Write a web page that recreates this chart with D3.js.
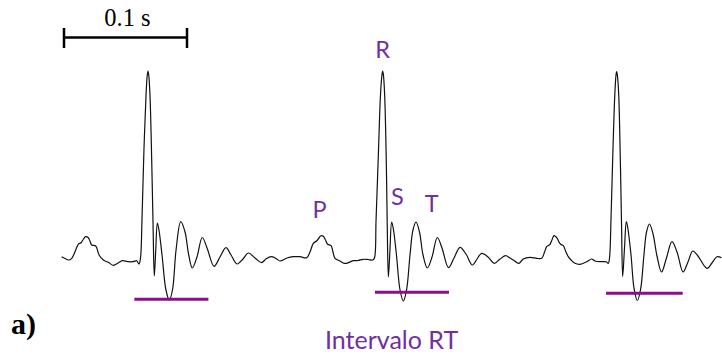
<!DOCTYPE html>
<html>
<head>
<meta charset="utf-8">
<script src="https://cdn.jsdelivr.net/npm/d3@7"></script>
<style>
  html, body { margin: 0; padding: 0; background: #fff; }
  svg { display: block; }
</style>
</head>
<body>
<svg id="chart" width="722" height="356"></svg>
<script>
// ECG trace: time in ms, amplitude in mV
const traceTime = [
  -1.9, 0.8, 3.5, 6.3, 9.5, 11.6, 13.8, 15.9, 17.6, 19.8, 21.1, 22.5, 25.8, 28.5, 32.0, 36.0, 40.1, 44.1, 47.4, 51.8, 56.3, 59.1, 61.0,
  62.2, 63.4, 65.0, 66.7, 67.7, 68.3, 68.9, 69.9, 71.3, 72.4, 73.4,
  74.6, 75.9, 77.2, 79.7, 82.9, 85.6, 88.2, 91.1, 94.9, 98.4, 101.4, 104.3, 108.1, 112.4, 116.3, 122.0, 126.8, 131.7, 135.8, 140.7, 145.5, 149.8, 155.3, 160.6, 164.2, 168.5, 172.4, 175.6, 181.3, 186.4, 191.9, 197.3,
  200.0, 202.7, 205.4, 207.3, 208.9, 210.8, 212.6, 214.4, 217.1, 218.7, 220.3, 224.4, 227.9, 229.8, 235.2, 239.0, 243.3, 247.2, 251.0,
  252.4, 253.7, 255.7, 257.3, 258.5, 259.1, 259.7, 260.7, 262.0, 262.8, 263.7,
  265.0, 266.4, 267.9, 270.3, 273.2, 275.9, 278.5, 281.3, 283.7, 286.2, 289.0, 291.9, 295.4, 299.2, 303.5, 307.3, 312.6, 317.1, 322.0, 326.8, 332.0, 335.8, 339.6, 344.7, 349.8, 354.5, 359.1, 362.6, 365.3, 369.9, 373.4, 378.9, 384.3, 388.4,
  390.7, 392.4, 395.1, 396.7, 398.4, 400.6, 402.0, 403.8, 405.9, 408.1, 410.0, 412.2, 415.4, 419.5, 425.0, 429.0, 431.7, 437.2, 440.7, 442.5,
  443.5, 444.7, 446.3, 447.8, 448.8, 449.3, 449.9, 451.0, 452.3, 453.3, 454.2,
  455.7, 457.2, 458.5, 461.0, 463.4, 466.1, 468.7, 471.5, 473.6, 476.0, 478.9, 482.1, 485.8, 489.8, 494.3, 498.4, 503.3, 507.3, 511.2, 515.4, 522.8, 526.8, 530.9, 534.6
];
const traceValue = [
  0.013, -0.005, -0.02, -0.003, 0.08, 0.137, 0.153, 0.19, 0.213, 0.203, 0.17, 0.13, 0.12, 0.03, -0.02, -0.043, -0.073, -0.05, -0.027, -0.037, -0.037, -0.027, -0.06,
  0, 0.38, 1.08, 1.63, 1.83, 1.87, 1.83, 1.63, 0.98, 0.33, -0.18,
  0.08, 0.35, 0.28, 0.03, -0.32, -0.42, -0.32, 0.08, 0.363, 0.26, 0.03, -0.10, 0.01, 0.205, 0.10, -0.083, 0.01, 0.103, 0.03, -0.06, -0.01, 0.05, 0, -0.047, -0.01, 0.013, -0.005, -0.03, 0, 0.013, 0.013, 0.003,
  0.06, 0.147, 0.17, 0.20, 0.223, 0.217, 0.18, 0.137, 0.123, 0.06, -0.003, -0.03, -0.053, -0.053, -0.027, -0.025, -0.013, -0.015, -0.02,
  0, 0.38, 1.08, 1.63, 1.83, 1.87, 1.83, 1.63, 0.98, 0.33, -0.19,
  0.08, 0.36, 0.28, 0.03, -0.32, -0.43, -0.32, 0.03, 0.28, 0.36, 0.26, 0.03, -0.10, 0.01, 0.205, 0.10, -0.097, 0, 0.107, 0.04, -0.07, -0.01, 0.047, 0.01, -0.053, -0.01, 0.023, 0, -0.02, -0.053, -0.01, 0.007, -0.003, -0.003,
  0.06, 0.113, 0.137, 0.18, 0.223, 0.203, 0.17, 0.137, 0.123, 0.06, 0.013, -0.02, -0.053, -0.063, -0.037, -0.01, -0.03, -0.037, -0.037, -0.053,
  0, 0.38, 1.08, 1.63, 1.83, 1.865, 1.83, 1.63, 0.98, 0.33, -0.185,
  0.10, 0.365, 0.29, 0.03, -0.30, -0.425, -0.32, 0.03, 0.26, 0.34, 0.24, 0.02, -0.14, 0, 0.163, 0.06, -0.14, -0.04, 0.07, 0.02, -0.103, -0.05, 0.013, 0.003
];

// RT interval markers (ms start, ms end, level in mV)
const rtStart = [57.2, 252.8, 440.7];
const rtEnd = [117.4, 313.0, 503.0];
const rtLevel = [-0.413, -0.343, -0.353];

// wave labels (centre time in ms, baseline level in mV)
const waveNames = ["P", "R", "S", "T"];
const waveTime = [207.7, 259.1, 271.1, 298.9];
const waveLevel = [0.403, 1.997, 0.53, 0.463];

// scale bar: 0.1 s
const scaleBarMs = [0, 100];
const scaleBarText = "0.1 s";

const purpleText = "#7030a0";
const purpleLine = "#880e8a";

const svg = d3.select("#chart");

const x = d3.scaleLinear().domain([0, 100]).range([64, 187]);
const y = d3.scaleLinear().domain([0, 1]).range([258, 158]);

const points = traceTime.map((t, i) => [t, traceValue[i]]);

const line = d3.line()
  .x(d => x(d[0]))
  .y(d => y(d[1]))
  .curve(d3.curveCatmullRom.alpha(0.5));

svg.append("path")
  .datum(points)
  .attr("fill", "none")
  .attr("stroke", "#111")
  .attr("stroke-width", 1.2)
  .attr("stroke-linejoin", "round")
  .attr("d", line);

// RT interval bars
svg.selectAll("line.rt")
  .data(rtStart.map((s, i) => ({ s, e: rtEnd[i], v: rtLevel[i] })))
  .join("line")
  .attr("class", "rt")
  .attr("x1", d => x(d.s))
  .attr("x2", d => x(d.e))
  .attr("y1", d => y(d.v))
  .attr("y2", d => y(d.v))
  .attr("stroke", purpleLine)
  .attr("stroke-width", 3);

// wave letters
svg.selectAll("text.wave")
  .data(waveNames.map((n, i) => ({ n, t: waveTime[i], v: waveLevel[i] })))
  .join("text")
  .attr("class", "wave")
  .attr("x", d => x(d.t))
  .attr("y", d => y(d.v))
  .attr("text-anchor", "middle")
  .attr("font-family", "Lato, 'Noto Sans', sans-serif")
  .attr("font-size", 23.5)
  .attr("fill", purpleText)
  .text(d => d.n);

// time scale bar
const barY = 37.5;
const bar = svg.append("g").attr("stroke", "#000").attr("stroke-width", 2.5);
bar.append("line")
  .attr("x1", x(scaleBarMs[0])).attr("x2", x(scaleBarMs[1]))
  .attr("y1", barY).attr("y2", barY);
scaleBarMs.forEach(t => {
  bar.append("line")
    .attr("x1", x(t)).attr("x2", x(t))
    .attr("y1", barY - 9.5).attr("y2", barY + 10.5);
});
svg.append("text")
  .attr("x", (x(scaleBarMs[0]) + x(scaleBarMs[1])) / 2 + 2)
  .attr("y", 26)
  .attr("text-anchor", "middle")
  .attr("font-family", "'Liberation Serif', 'Times New Roman', serif")
  .attr("font-size", 24.5)
  .attr("fill", "#000")
  .text(scaleBarText);

// panel tag
svg.append("text")
  .attr("x", 11)
  .attr("y", 333.5)
  .attr("font-family", "'Liberation Serif', 'Times New Roman', serif")
  .attr("font-weight", "bold")
  .attr("font-size", 30)
  .attr("fill", "#000")
  .text("a)");

// interval caption
svg.append("text")
  .attr("x", 325)
  .attr("y", 349)
  .attr("font-family", "Lato, 'Noto Sans', sans-serif")
  .attr("font-size", 25)
  .attr("fill", purpleText)
  .text("Intervalo RT");
</script>
</body>
</html>
